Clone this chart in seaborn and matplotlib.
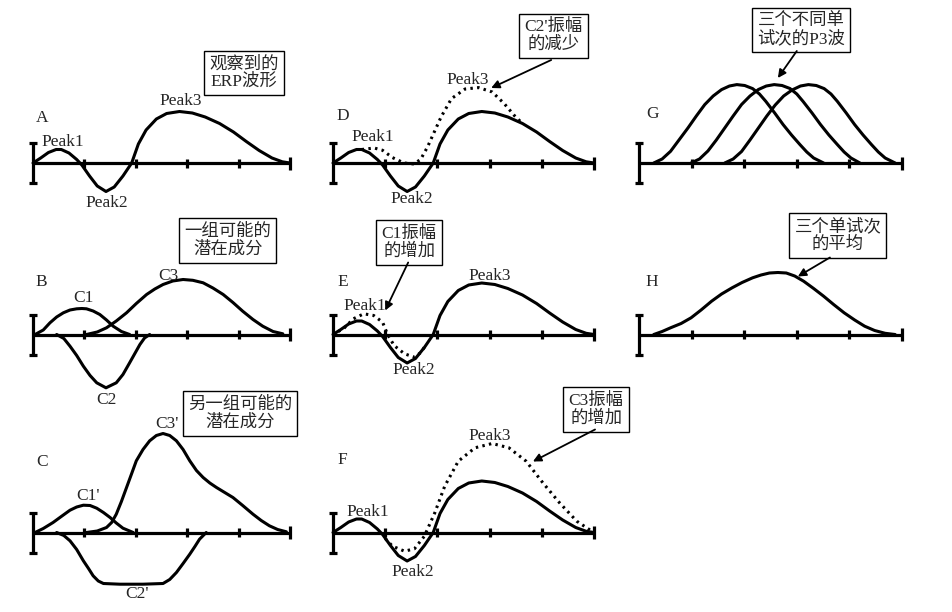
import matplotlib
matplotlib.use('Agg')
from matplotlib import pyplot as plt
import seaborn as sns

# observed ERP waveform (solid curve in A, D, E, F); x in tick units, y in 10 px units
erp_x = [0, 0.15, 0.3, 0.45, 0.55, 0.7, 0.85, 0.95, 1.1, 1.25, 1.42, 1.58, 1.75, 1.92, 2.05,
         2.2, 2.4, 2.6, 2.85, 3.1, 3.35, 3.63, 3.9, 4.15, 4.4, 4.65, 4.85, 5.0]
erp_y = [0, 0.5, 1.05, 1.35, 1.35, 1.0, 0.35, -0.2, -1.3, -2.3, -2.85, -2.4, -1.3, 0, 1.9,
         3.3, 4.4, 4.95, 5.15, 5.0, 4.6, 3.95, 3.1, 2.15, 1.25, 0.5, 0.12, 0.0]

# B: one possible set of latent components
c1_x = [0.04, 0.2, 0.33, 0.46, 0.59, 0.72, 0.85, 0.95, 1.04, 1.17, 1.3, 1.43, 1.56, 1.72, 1.88]
c1_y = [0, 0.45, 1.17, 1.75, 2.17, 2.45, 2.57, 2.6, 2.57, 2.35, 2.0, 1.45, 0.83, 0.3, 0]
c2_x = [0.46, 0.6, 0.72, 0.85, 0.98, 1.11, 1.24, 1.42, 1.62, 1.75, 1.88, 2.08, 2.17, 2.27]
c2_y = [0, -0.4, -1.17, -2.1, -3.17, -4.1, -4.83, -5.33, -4.83, -4.0, -2.83, -1.0, -0.35, 0]
c3_x = [1.04, 1.25, 1.43, 1.62, 1.82, 2.01, 2.21, 2.37, 2.53, 2.72, 2.92, 3.11, 3.31, 3.5,
        3.7, 3.89, 4.08, 4.28, 4.47, 4.67, 4.86]
c3_y = [0, 0.25, 0.67, 1.35, 2.17, 3.1, 4.0, 4.55, 5.0, 5.35, 5.5, 5.42, 5.17, 4.65,
        4.0, 3.2, 2.33, 1.5, 0.83, 0.3, 0.07]

# C: another possible set of latent components
cp1_x = [0.04, 0.2, 0.39, 0.55, 0.72, 0.85, 0.98, 1.11, 1.24, 1.37, 1.5, 1.62, 1.75, 1.95]
cp1_y = [0, 0.4, 1.0, 1.6, 2.23, 2.55, 2.73, 2.7, 2.43, 2.0, 1.5, 0.95, 0.43, 0]
cp2_x = [0.46, 0.6, 0.72, 0.85, 0.98, 1.08, 1.17, 1.27, 1.37, 1.69, 2.14, 2.53, 2.66, 2.79,
         2.92, 3.05, 3.15, 3.24, 3.37]
cp2_y = [0, -0.3, -0.83, -1.7, -2.83, -3.6, -4.33, -4.85, -5.1, -5.17, -5.17, -5.1, -4.7, -4.0,
         -3.1, -2.17, -1.4, -0.67, 0]
cp3_x = [1.04, 1.25, 1.43, 1.53, 1.62, 1.72, 1.82, 1.92, 2.01, 2.14, 2.27, 2.4, 2.53, 2.66,
         2.79, 2.92, 3.05, 3.18, 3.31, 3.44, 3.57, 3.73, 3.89, 4.08, 4.28, 4.44, 4.6, 4.76, 4.93]
cp3_y = [0, 0.15, 0.5, 1.0, 1.83, 3.1, 4.5, 5.9, 7.17, 8.3, 9.17, 9.7, 9.9, 9.7,
         9.17, 8.3, 7.17, 6.2, 5.5, 4.95, 4.5, 4.0, 3.5, 2.7, 1.83, 1.2, 0.67, 0.3, 0.07]

# dotted waveforms in D, E, F
d_x = [0.55, 0.79, 0.95, 1.14, 1.36, 1.55, 1.68, 1.81, 1.94, 2.07, 2.27, 2.53, 2.79, 3.05,
       3.28, 3.47, 3.6]
d_y = [1.35, 1.5, 1.27, 0.54, 0.0, -0.1, 0.37, 1.6, 3.1, 4.6, 6.44, 7.4, 7.54, 7.1,
       5.94, 4.77, 4.1]
e_x = [0.1, 0.2, 0.39, 0.59, 0.78, 0.95, 1.04, 1.17, 1.37, 1.56, 1.69, 1.79]
e_y = [0.3, 0.57, 1.57, 2.07, 1.9, 1.23, 0.07, -1.1, -1.93, -2.27, -1.77, -0.93]
f_x = [1.0, 1.14, 1.37, 1.56, 1.75, 1.95, 2.14, 2.4, 2.72, 3.05, 3.37, 3.7, 4.02, 4.34,
       4.67, 4.93, 5.0]
f_y = [-0.6, -1.37, -1.87, -1.63, -0.37, 1.97, 4.63, 7.13, 8.47, 8.9, 8.47, 7.13, 4.97, 2.97,
       1.13, 0.23, 0.0]

# G: three single-trial P3 waves, H: their average
g1_x = [0.28, 0.44, 0.6, 0.76, 0.93, 1.09, 1.25, 1.41, 1.57, 1.72, 1.86, 2.01, 2.16, 2.29,
        2.41, 2.58, 2.74, 2.9, 3.06, 3.19, 3.32, 3.51]
g1_y = [0, 0.4, 1.17, 2.3, 3.5, 4.7, 5.84, 6.7, 7.34, 7.7, 7.84, 7.75, 7.44, 6.9,
        6.17, 5.0, 3.84, 2.8, 1.84, 1.1, 0.5, 0]
g2_x = [0.99, 1.15, 1.31, 1.47, 1.63, 1.79, 1.95, 2.11, 2.27, 2.42, 2.57, 2.72, 2.87, 3.0,
        3.12, 3.29, 3.45, 3.61, 3.77, 3.9, 4.03, 4.2]
g2_y = [0, 0.4, 1.2, 2.3, 3.5, 4.7, 5.85, 6.7, 7.35, 7.7, 7.84, 7.75, 7.45, 6.9,
        6.15, 5.0, 3.85, 2.8, 1.85, 1.1, 0.5, 0]
g3_x = [1.63, 1.79, 1.95, 2.11, 2.27, 2.43, 2.59, 2.75, 2.91, 3.07, 3.22, 3.37, 3.52, 3.65,
        3.77, 3.94, 4.1, 4.26, 4.42, 4.55, 4.68, 4.87]
g3_y = [0, 0.4, 1.15, 2.3, 3.5, 4.7, 5.8, 6.7, 7.3, 7.7, 7.84, 7.75, 7.44, 6.9,
        6.17, 5.0, 3.84, 2.8, 1.84, 1.1, 0.5, 0]
h_x = [0.28, 0.44, 0.6, 0.8, 0.99, 1.18, 1.38, 1.57, 1.77, 1.96, 2.16, 2.32, 2.48, 2.64,
       2.8, 2.96, 3.13, 3.32, 3.51, 3.7, 3.9, 4.1, 4.29, 4.48, 4.68, 4.87]
h_y = [0, 0.3, 0.67, 1.1, 1.67, 2.45, 3.33, 4.05, 4.67, 5.2, 5.67, 5.95, 6.15, 6.2,
       6.15, 5.85, 5.33, 4.6, 3.83, 3.0, 2.17, 1.45, 0.83, 0.4, 0.12, 0]

box_texts = {
    'A': '观察到的\nERP波形',
    'B': '一组可能的\n潜在成分',
    'C': '另一组可能的\n潜在成分',
    'D': "C2'振幅\n的减少",
    'E': 'C1振幅\n的增加',
    'F': 'C3振幅\n的增加',
    'G': '三个不同单\n试次的P3波',
    'H': '三个单试次\n的平均',
}

sns.set_style('white')
FONT = ['Liberation Serif', 'Noto Sans CJK SC', 'DejaVu Sans']
plt.rcParams['font.family'] = FONT

W, H = 953, 612
fig = plt.figure(figsize=(W / 100, H / 100), dpi=100)

col_x0 = [33, 333, 639]
col_unit = [51.4, 52.2, 52.6]
row_base = [163, 334.5, 532.5]
layout = {'A': (0, 0), 'B': (0, 1), 'C': (0, 2), 'D': (1, 0), 'E': (1, 1),
          'F': (1, 2), 'G': (2, 0), 'H': (2, 1)}


def make_axes(letter):
    col, row = layout[letter]
    ux = col_unit[col]
    left = col_x0[col] - 0.5 * ux
    bottom = row_base[row] + 70
    ax = fig.add_axes([left / W, 1 - bottom / H, 6 * ux / W, 200 / H])
    ax.set_xlim(-0.5, 5.5)
    ax.set_ylim(-7, 13)
    ax.axis('off')
    # time axis with ticks and the amplitude bar
    ax.hlines(0, 0, 5, color='black', lw=2.3)
    ax.vlines([1, 2, 3, 4], -0.45, 0.45, color='black', lw=2.3)
    ax.vlines(5, -0.65, 0.65, color='black', lw=2.3)
    ax.vlines(0, -2, 2, color='black', lw=2.3)
    ax.hlines([-2, 2], -0.07, 0.07, color='black', lw=2.3)
    return ax


def curve(ax, x, y, dotted=False):
    kw = dict(linestyle=(0, (0.8, 1.4))) if dotted else {}
    sns.lineplot(x=x, y=y, ax=ax, color='black', lw=2.2, sort=False,
                 estimator=None, **kw)


def label(ax, x, y, s, size=12.5):
    ax.text(x, y, s, ha='center', va='center', fontsize=size, family=FONT)


def box(ax, x, y, s):
    ax.text(x, y, s, ha='center', va='center', fontsize=12.5, family=FONT,
            linespacing=1.1,
            bbox=dict(boxstyle='square,pad=0.3', fc='white', ec='black', lw=1))


def arrow(ax, start, end):
    ax.annotate('', xy=end, xytext=start,
                arrowprops=dict(arrowstyle='-|>', color='black', lw=1.3,
                                mutation_scale=12, shrinkA=0, shrinkB=0))


# A
ax = make_axes('A')
curve(ax, erp_x, erp_y)
label(ax, 0.17, 4.5, 'A')
label(ax, 0.58, 2.1, 'Peak1')
label(ax, 1.44, -4.0, 'Peak2')
label(ax, 2.88, 6.2, 'Peak3')
box(ax, 4.1, 9.0, box_texts['A'])

# B
ax = make_axes('B')
curve(ax, c1_x, c1_y)
curve(ax, c2_x, c2_y)
curve(ax, c3_x, c3_y)
label(ax, 0.17, 5.2, 'B')
label(ax, 0.99, 3.6, 'C1')
label(ax, 2.63, 5.9, 'C3')
label(ax, 1.42, -6.5, 'C2')
box(ax, 3.79, 9.4, box_texts['B'])

# C
ax = make_axes('C')
curve(ax, cp1_x, cp1_y)
curve(ax, cp2_x, cp2_y)
curve(ax, cp3_x, cp3_y)
label(ax, 0.17, 7.1, 'C')
label(ax, 1.07, 3.6, "C1'")
label(ax, 2.61, 10.9, "C3'")
label(ax, 2.02, -6.1, "C2'")
box(ax, 4.03, 11.9, box_texts['C'])

# D
ax = make_axes('D')
curve(ax, erp_x, erp_y)
curve(ax, d_x, d_y, dotted=True)
label(ax, 0.19, 4.7, 'D')
label(ax, 0.77, 2.6, 'Peak1')
label(ax, 1.51, -3.6, 'Peak2')
label(ax, 2.59, 8.3, 'Peak3')
box(ax, 4.23, 12.7, box_texts['D'])
arrow(ax, (4.18, 10.3), (3.03, 7.5))

# E
ax = make_axes('E')
curve(ax, erp_x, erp_y)
curve(ax, e_x, e_y, dotted=True)
label(ax, 0.19, 5.2, 'E')
label(ax, 0.61, 2.9, 'Peak1')
label(ax, 1.55, -3.6, 'Peak2')
label(ax, 3.0, 5.8, 'Peak3')
box(ax, 1.46, 9.2, box_texts['E'])
arrow(ax, (1.44, 7.2), (1.0, 2.4))

# F
ax = make_axes('F')
curve(ax, erp_x, erp_y)
curve(ax, f_x, f_y, dotted=True)
label(ax, 0.17, 7.3, 'F')
label(ax, 0.67, 2.1, 'Peak1')
label(ax, 1.53, -3.9, 'Peak2')
label(ax, 3.0, 9.7, 'Peak3')
box(ax, 5.04, 12.3, box_texts['F'])
arrow(ax, (5.02, 10.3), (3.83, 7.1))

# G
ax = make_axes('G')
curve(ax, g1_x, g1_y)
curve(ax, g2_x, g2_y)
curve(ax, g3_x, g3_y)
label(ax, 0.25, 4.9, 'G')
box(ax, 3.08, 13.3, box_texts['G'])
arrow(ax, (3.0, 11.2), (2.64, 8.5))

# H
ax = make_axes('H')
curve(ax, h_x, h_y)
label(ax, 0.25, 5.3, 'H')
box(ax, 3.78, 9.9, box_texts['H'])
arrow(ax, (3.63, 7.7), (3.02, 5.8))

fig.savefig('out.png', dpi=100)
